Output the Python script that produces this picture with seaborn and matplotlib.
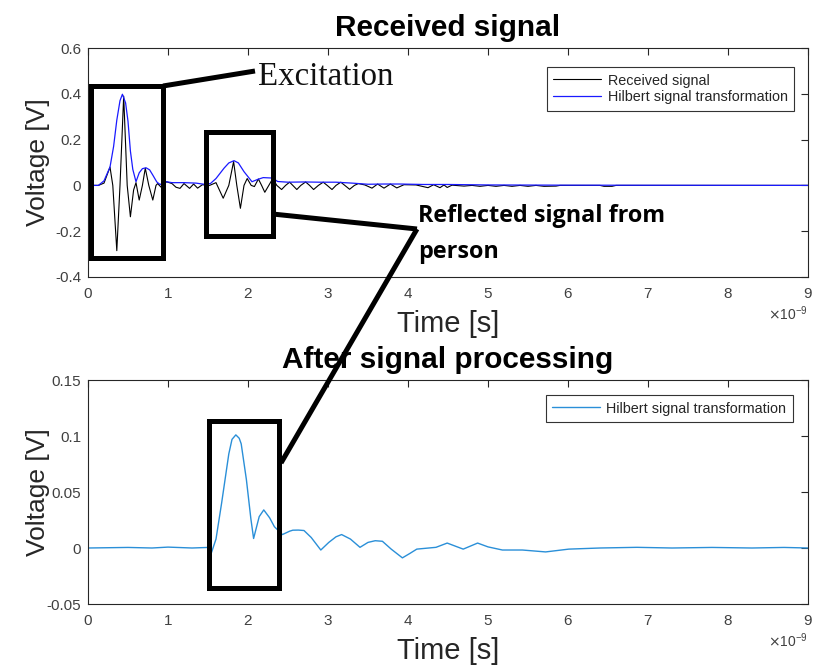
import numpy as np
import pandas as pd
import matplotlib
matplotlib.use("Agg")
import matplotlib.pyplot as plt
from matplotlib.lines import Line2D
from matplotlib.patches import Rectangle
from matplotlib.ticker import ScalarFormatter
import seaborn as sns

# ---------------- data (time in ns, voltage in V) ----------------
rx_time_ns = [0, 0.13, 0.20, 0.275, 0.31, 0.36, 0.40, 0.446, 0.49, 0.53, 0.57, 0.60, 0.64, 0.68,
              0.716, 0.76, 0.81, 0.85, 0.87, 0.92, 0.98, 1.05, 1.10, 1.15, 1.20, 1.27, 1.32, 1.37,
              1.43, 1.52, 1.60, 1.69, 1.76, 1.82, 1.86, 1.905, 1.95, 1.99, 2.04, 2.08, 2.13, 2.17,
              2.21, 2.26, 2.31, 2.36, 2.42, 2.47, 2.52, 2.56, 2.61, 2.66, 2.72, 2.77, 2.82, 2.88,
              2.94, 2.99, 3.05, 3.10, 3.16, 3.21, 3.27, 3.33, 3.38, 3.46, 3.55, 3.62, 3.70, 3.78,
              3.86, 3.95, 4.10, 4.25, 4.32, 4.40, 4.45, 4.49, 4.55, 4.70, 4.80, 4.90, 5.00, 5.10,
              5.20, 5.30, 5.40, 5.50, 5.60, 5.70, 5.85, 5.90, 6.40, 6.45, 6.55, 6.60, 9.0]
rx_volt = [0, 0, 0.01, 0.08, 0.0, -0.285, 0.0, 0.39, 0.0, -0.137, -0.02, 0.012, -0.064, 0.0,
           0.075, 0.0, -0.064, 0.0, 0.008, -0.01, 0.016, 0.008, -0.008, -0.013, 0.008, -0.013, 0.006, -0.012,
           0.003, 0.0, 0.012, -0.056, 0.0, 0.104, 0.0, -0.10, 0.0, 0.03, 0.0, -0.005, 0.028, 0.0,
           -0.03, 0.0, 0.03, 0.0, -0.018, 0.0, 0.014, 0.0, -0.018, 0.0, 0.015, 0.0, -0.018, 0.0,
           0.014, 0.0, -0.018, 0.0, 0.014, 0.0, -0.017, 0.0, 0.008, 0.002, -0.012, 0.006, -0.012, 0.006,
           -0.011, 0.003, 0.002, -0.01, 0.003, -0.01, 0.002, -0.009, 0.001, -0.003, 0.0, -0.004, 0.0, -0.004,
           0.0, -0.004, 0.0, -0.004, 0.0, -0.004, -0.003, 0.0, 0.0, -0.004, -0.004, 0.0, 0.0]

env_time_ns = [0, 0.13, 0.20, 0.275, 0.32, 0.36, 0.40, 0.43, 0.47, 0.50, 0.53, 0.56, 0.60, 0.64,
               0.68, 0.725, 0.77, 0.81, 0.86, 0.90, 0.98, 1.05, 1.20, 1.35, 1.45, 1.53, 1.60, 1.70,
               1.76, 1.825, 1.88, 1.95, 2.05, 2.12, 2.19, 2.31, 2.37, 2.5, 2.7, 2.9, 3.1, 3.3,
               3.5, 3.7, 3.9, 4.2, 4.5, 5.0, 6.0, 9.0]
env_volt = [0, 0, 0.02, 0.08, 0.17, 0.285, 0.37, 0.398, 0.36, 0.28, 0.15, 0.07, 0.016, 0.055,
            0.073, 0.077, 0.068, 0.045, 0.015, 0.004, 0.016, 0.012, 0.012, 0.01, 0.005, 0.008, 0.03, 0.075,
            0.098, 0.108, 0.098, 0.06, 0.016, 0.026, 0.034, 0.032, 0.017, 0.014, 0.015, 0.014, 0.014, 0.01,
            0.005, 0.006, 0.006, 0.004, 0.004, 0.002, 0.001, 0.0]

proc_time_ns = [0, 0.5, 0.8, 1.0, 1.3, 1.5, 1.544, 1.60, 1.67, 1.76, 1.80, 1.848, 1.89, 1.915,
                1.98, 2.036, 2.07, 2.14, 2.197, 2.27, 2.33, 2.43, 2.52, 2.56, 2.63, 2.70, 2.79, 2.91,
                3.01, 3.10, 3.17, 3.28, 3.40, 3.50, 3.59, 3.68, 3.79, 3.93, 4.02, 4.11, 4.35, 4.49,
                4.69, 4.87, 5.00, 5.18, 5.43, 5.72, 6.01, 6.40, 6.86, 7.30, 7.80, 8.30, 8.70, 9.0]
proc_volt = [0, 0.0005, 0.0, 0.0008, 0.0, 0.0005, -0.004, 0.008, 0.040, 0.084, 0.097, 0.101, 0.098, 0.093,
             0.061, 0.026, 0.0085, 0.028, 0.034, 0.027, 0.019, 0.012, 0.015, 0.0159, 0.016, 0.0156, 0.0094, -0.0018,
             0.005, 0.010, 0.012, 0.008, 0.0006, 0.005, 0.0065, 0.006, -0.001, -0.0088, -0.005, -0.001, 0.0006, 0.0044,
             -0.001, 0.0044, 0.001, -0.0018, -0.0018, -0.0035, -0.001, 0.0, 0.0006, 0.0, 0.0005, 0.0, 0.0005, 0.0]

top_yticks = [0.6, 0.4, 0.2, 0, -0.2, -0.4]
top_yticklabels = ["0.6", "0.4", "0.2", "0", "-0.2", "-0.4"]
bot_yticks = [0.15, 0.1, 0.05, 0, -0.05]
bot_yticklabels = ["0.15", "0.1", "0.05", "0", "-0.05"]
xtick_ns = list(range(0, 10))

# ---------------- style ----------------
sns.set_theme(style="white")
plt.rcParams['font.family'] = ['Liberation Sans', 'DejaVu Sans']
plt.rcParams['axes.linewidth'] = 0.8

W, H = 813, 666
fig = plt.figure(figsize=(W / 100, H / 100), dpi=100)


def fx(x):
    return x / W


def fy(y):
    return 1 - y / H


ax1 = fig.add_axes([fx(88), fy(277), fx(808) - fx(88), fy(48) - fy(277)])
ax2 = fig.add_axes([fx(88), fy(604), fx(808) - fx(88), fy(380) - fy(604)])

df_rx = pd.DataFrame({"t": np.array(rx_time_ns) * 1e-9, "v": rx_volt})
df_env = pd.DataFrame({"t": np.array(env_time_ns) * 1e-9, "v": env_volt})
df_proc = pd.DataFrame({"t": np.array(proc_time_ns) * 1e-9, "v": proc_volt})

sns.lineplot(data=df_rx, x="t", y="v", ax=ax1, color="black", lw=0.8, sort=False,
             estimator=None, label="Received signal")
sns.lineplot(data=df_env, x="t", y="v", ax=ax1, color="#1a1aff", lw=0.9, sort=False,
             estimator=None, label="Hilbert signal transformation")
sns.lineplot(data=df_proc, x="t", y="v", ax=ax2, color="#2a8fd8", lw=1.0, sort=False,
             estimator=None, label="Hilbert signal transformation")

tick_color = "#404040"
for ax, yt, ytl, ylim, ttl, leg_anchor in [
        (ax1, top_yticks, top_yticklabels, (-0.4, 0.6), "Received signal", (0.9806, 0.917)),
        (ax2, bot_yticks, bot_yticklabels, (-0.05, 0.15), "After signal processing", (0.979, 0.933))]:
    ax.set_xlim(0, 9e-9)
    ax.set_ylim(*ylim)
    ax.set_xticks(np.array(xtick_ns) * 1e-9)
    fmt = ScalarFormatter(useMathText=True)
    fmt.set_powerlimits((0, 0))
    ax.xaxis.set_major_formatter(fmt)
    ax.xaxis.get_offset_text().set_fontsize(10)
    ax.xaxis.get_offset_text().set_color(tick_color)
    ax.set_yticks(yt)
    ax.set_yticklabels(ytl)
    ax.tick_params(direction="in", length=5, width=0.8, top=True, right=True,
                   labelsize=11, colors="#262626", labelcolor=tick_color)
    ax.tick_params(axis="x", pad=7)
    ax.tick_params(axis="y", pad=5)
    for sp in ax.spines.values():
        sp.set_color("#262626")
        sp.set_linewidth(0.8)
    ax.set_xlabel("Time [s]", fontsize=21, color="#262626", labelpad=7)
    ax.set_ylabel("Voltage [V]", fontsize=19, color="#262626")
    ax.yaxis.set_label_coords(-0.053, 0.5)
    ax.set_title(ttl, fontsize=21.4, fontweight="bold", color="black", pad=9)
    leg = ax.legend(loc="upper right", bbox_to_anchor=leg_anchor, borderaxespad=0,
                    fontsize=10.4, handlelength=3.3, handletextpad=0.45, labelspacing=0.2,
                    borderpad=0.45, fancybox=False, framealpha=1)
    leg.get_frame().set_edgecolor("#333333")
    leg.get_frame().set_linewidth(0.8)
    for t in leg.get_texts():
        t.set_color("#262626")

# ---------------- annotations (figure pixel positions) ----------------
LW = 3.6


def rect(x0, y0, x1, y1):
    fig.add_artist(Rectangle((fx(x0), fy(y1)), fx(x1) - fx(x0), fy(y0) - fy(y1),
                             transform=fig.transFigure, fill=False, ec="black", lw=LW,
                             zorder=10, joinstyle="miter"))


def seg(x0, y0, x1, y1, lw=LW):
    fig.add_artist(Line2D([fx(x0), fx(x1)], [fy(y0), fy(y1)], transform=fig.transFigure,
                          color="black", lw=lw, zorder=10, solid_capstyle="butt"))


rect(90.5, 86, 163, 258)
seg(163, 86, 255, 71)
rect(205.5, 131.5, 272.5, 235.5)
seg(272.5, 214, 417, 229)
seg(417, 229, 281, 463)
rect(209, 420.5, 279, 588)

fig.text(fx(258), fy(77), "Excitation", family="Liberation Serif", fontsize=23.7,
         color="#111111", ha="left", va="center")
fig.text(fx(418), fy(216), "Reflected signal from", family="Open Sans", fontweight="bold",
         fontsize=16.8, color="black", ha="left", va="center")
fig.text(fx(418), fy(252), "person", family="Open Sans", fontweight="bold",
         fontsize=16.8, color="black", ha="left", va="center")

fig.savefig("out.png", dpi=100)
